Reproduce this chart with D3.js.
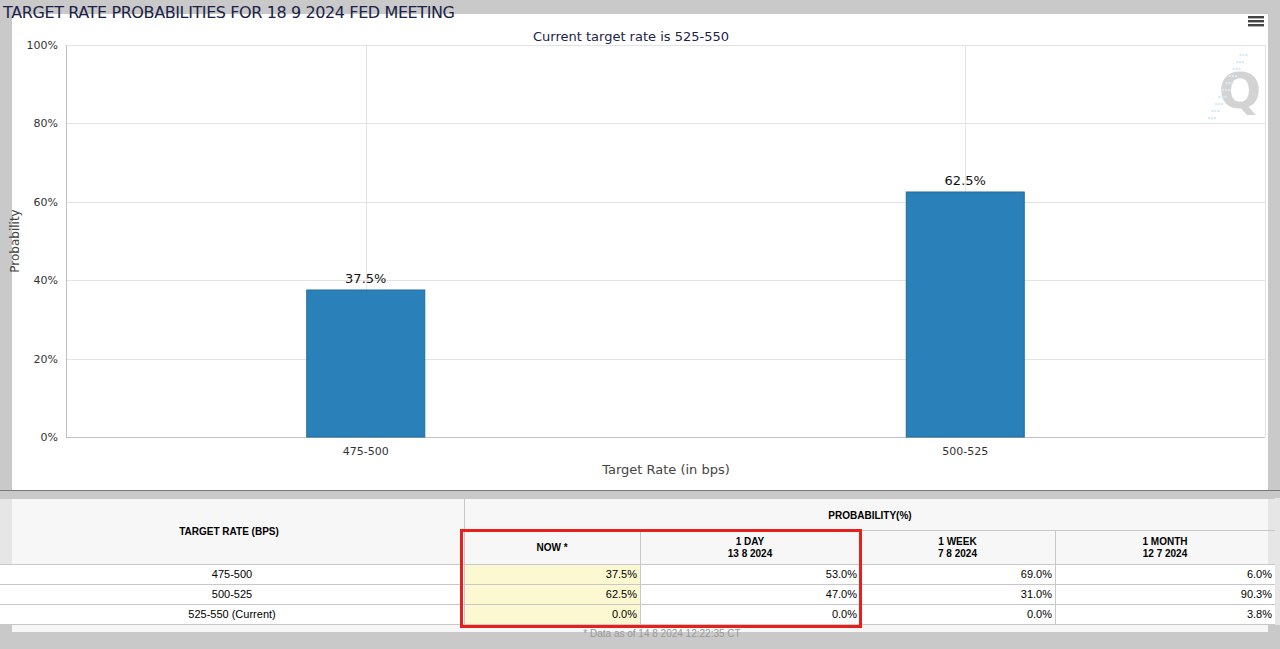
<!DOCTYPE html>
<html>
<head>
<meta charset="utf-8">
<script src="https://cdn.jsdelivr.net/npm/d3@7"></script>
<style>
  body { margin: 0; background: #c9c9c9; font-family: "Liberation Sans", Arial, sans-serif; }
  svg { display: block; }
</style>
</head>
<body>
<svg id="chart" width="1280" height="649"></svg>
<script>
const rates = ["475-500", "500-525"];
const probs = [37.5, 62.5];
const yTicks = [0, 20, 40, 60, 80, 100];

const tableRates = ["475-500", "500-525", "525-550 (Current)"];
const nowVals = [37.5, 62.5, 0.0];
const dayVals = [53.0, 47.0, 0.0];
const weekVals = [69.0, 31.0, 0.0];
const monthVals = [6.0, 90.3, 3.8];

const width = 1280;
const height = 649;
const margin = { top: 45, right: 15, bottom: 212, left: 66 };

const svg = d3.select("#chart");

// chart panel
svg.append("rect").attr("x", 12).attr("y", 14).attr("width", 1256).attr("height", 476)
  .attr("fill", "#fff");
svg.append("line").attr("x1", 0).attr("x2", 1280).attr("y1", 490.5).attr("y2", 490.5)
  .attr("stroke", "#777");

svg.append("text").attr("x", 3).attr("y", 18).attr("font-size", 16)
  .attr("font-family", "DejaVu Sans, sans-serif").attr("fill", "#1b2248")
  .attr("textLength", 452)
  .text("TARGET RATE PROBABILITIES FOR 18 9 2024 FED MEETING");

svg.append("text").attr("x", 631).attr("y", 41).attr("text-anchor", "middle")
  .attr("font-size", 13).attr("font-family", "DejaVu Sans, sans-serif").attr("fill", "#1b2248")
  .text("Current target rate is 525-550");

// menu icon
[17, 21, 25].forEach(y => svg.append("rect").attr("x", 1248).attr("y", y - 1)
  .attr("width", 16).attr("height", 2.4).attr("fill", "#444"));

// watermark
const wm = svg.append("g").attr("opacity", 0.9);
wm.append("text").attr("x", 1240).attr("y", 108).attr("text-anchor", "middle")
  .attr("font-size", 50).attr("font-weight", "bold").attr("fill", "#cfcfcf")
  .attr("font-family", "DejaVu Sans, sans-serif").text("Q");
for (let i = 0; i < 10; i++) {
  wm.append("line").attr("x1", 1208 + i * 3.5).attr("x2", 1216 + i * 3.5)
    .attr("y1", 118 - i * 7).attr("y2", 118 - i * 7)
    .attr("stroke", "#cfe8f8").attr("stroke-width", 2).attr("stroke-dasharray", "2,1");
}

const x = d3.scaleBand().domain(rates).range([margin.left, width - margin.right]);
const y = d3.scaleLinear().domain([0, 100]).range([437, margin.top]);

const g = svg.append("g").attr("font-family", "DejaVu Sans, sans-serif");

g.selectAll("line.hgrid").data(yTicks).enter().append("line")
  .attr("x1", margin.left).attr("x2", width - margin.right)
  .attr("y1", d => Math.round(y(d)) + 0.5).attr("y2", d => Math.round(y(d)) + 0.5)
  .attr("stroke", "#e3e3e3");
g.selectAll("line.vgrid").data(rates).enter().append("line")
  .attr("x1", d => Math.round(x(d) + x.bandwidth() / 2) + 0.5)
  .attr("x2", d => Math.round(x(d) + x.bandwidth() / 2) + 0.5)
  .attr("y1", margin.top).attr("y2", 437).attr("stroke", "#e3e3e3");
g.append("line").attr("x1", width - margin.right + 0.5).attr("x2", width - margin.right + 0.5)
  .attr("y1", margin.top).attr("y2", 437).attr("stroke", "#e3e3e3");
g.append("line").attr("x1", margin.left + 0.5).attr("x2", margin.left + 0.5)
  .attr("y1", margin.top).attr("y2", 437).attr("stroke", "#c0c0c0");
g.append("line").attr("x1", margin.left).attr("x2", width - margin.right)
  .attr("y1", 437.5).attr("y2", 437.5).attr("stroke", "#c0c0c0");

g.selectAll("text.ytick").data(yTicks).enter().append("text")
  .attr("x", margin.left - 8).attr("y", d => y(d) + 4).attr("text-anchor", "end")
  .attr("font-size", 11).attr("fill", "#333").text(d => d + "%");

g.selectAll("text.xtick").data(rates).enter().append("text")
  .attr("x", d => x(d) + x.bandwidth() / 2).attr("y", 455).attr("text-anchor", "middle")
  .attr("font-size", 11).attr("fill", "#333").text(d => d);

g.append("text").attr("x", 666).attr("y", 474).attr("text-anchor", "middle")
  .attr("font-size", 13).attr("fill", "#444").text("Target Rate (in bps)");
g.append("text").attr("transform", "translate(19,241)rotate(-90)").attr("text-anchor", "middle")
  .attr("font-size", 12).attr("fill", "#444").text("Probability");

const barW = 118;
g.selectAll("rect.bar").data(rates).enter().append("rect")
  .attr("x", d => x(d) + x.bandwidth() / 2 - barW / 2)
  .attr("y", (d, i) => y(probs[i]))
  .attr("width", barW)
  .attr("height", (d, i) => y(0) - y(probs[i]))
  .attr("fill", "#2a80b9").attr("stroke", "#1f6a9c").attr("stroke-width", 1);
g.selectAll("text.lbl").data(rates).enter().append("text")
  .attr("x", d => x(d) + x.bandwidth() / 2).attr("y", (d, i) => y(probs[i]) - 7)
  .attr("text-anchor", "middle").attr("font-size", 13).attr("fill", "#111")
  .text((d, i) => probs[i].toFixed(1) + "%");

// table
const t = svg.append("g").attr("font-family", "Liberation Sans, Arial, sans-serif").attr("font-size", 11);
t.append("rect").attr("x", 12).attr("y", 498).attr("width", 1256).attr("height", 134).attr("fill", "#f7f7f7");
t.append("rect").attr("x", 0).attr("y", 498).attr("width", 12).attr("height", 127).attr("fill", "#e6e6e6");
t.append("rect").attr("x", 1268).attr("y", 498).attr("width", 12).attr("height", 127).attr("fill", "#e6e6e6");

const cols = [0, 464, 640, 860, 1055, 1275];
const rowY = [564, 584, 604, 624];
const colData = [nowVals, dayVals, weekVals, monthVals];

// data rows
rowY.slice(0, 3).forEach((ry, r) => {
  t.append("rect").attr("x", 0).attr("y", ry).attr("width", 1275).attr("height", 20).attr("fill", "#fff");
  t.append("rect").attr("x", cols[1]).attr("y", ry).attr("width", cols[2] - cols[1]).attr("height", 20).attr("fill", "#fbf8d2");
  t.append("text").attr("x", 232).attr("y", ry + 14).attr("text-anchor", "middle").text(tableRates[r]);
  colData.forEach((vals, c) => {
    t.append("text").attr("x", cols[c + 2] - 3).attr("y", ry + 14).attr("text-anchor", "end")
      .text(vals[r].toFixed(1) + "%");
  });
});
// grid lines
[498, 530, 564, 584, 604, 624].forEach(yy => {
  const x0 = (yy === 530) ? cols[1] : 0;
  t.append("line").attr("x1", x0).attr("x2", 1275).attr("y1", yy + 0.5).attr("y2", yy + 0.5).attr("stroke", "#c8c8c8");
});
t.append("line").attr("x1", cols[1] + 0.5).attr("x2", cols[1] + 0.5).attr("y1", 498).attr("y2", 624).attr("stroke", "#c8c8c8");
cols.slice(2, 5).forEach(cx => t.append("line").attr("x1", cx + 0.5).attr("x2", cx + 0.5)
  .attr("y1", 530).attr("y2", 624).attr("stroke", "#c8c8c8"));

t.append("text").attr("x", 229).attr("y", 535).attr("text-anchor", "middle").attr("font-weight", "bold").attr("font-size", 10).text("TARGET RATE (BPS)");
t.append("text").attr("x", 870).attr("y", 519).attr("text-anchor", "middle").attr("font-weight", "bold").attr("font-size", 10).text("PROBABILITY(%)");
const heads = [["NOW *"], ["1 DAY", "13 8 2024"], ["1 WEEK", "7 8 2024"], ["1 MONTH", "12 7 2024"]];
heads.forEach((h, i) => {
  const cx = (cols[i + 1] + cols[i + 2]) / 2;
  if (h.length === 1) {
    t.append("text").attr("x", cx).attr("y", 551).attr("text-anchor", "middle").attr("font-weight", "bold").attr("font-size", 10).text(h[0]);
  } else {
    h.forEach((s, k) => t.append("text").attr("x", cx).attr("y", 545 + k * 12).attr("text-anchor", "middle")
      .attr("font-weight", "bold").attr("font-size", 10).text(s));
  }
});
t.append("text").attr("x", 662).attr("y", 637).attr("text-anchor", "middle").attr("fill", "#999").attr("font-size", 10)
  .text("* Data as of 14 8 2024 12:22:35 CT");

// highlight box
t.append("rect").attr("x", 461.5).attr("y", 530.5).attr("width", 399).attr("height", 96)
  .attr("fill", "none").attr("stroke", "#e8201c").attr("stroke-width", 3);
</script>
</body>
</html>
